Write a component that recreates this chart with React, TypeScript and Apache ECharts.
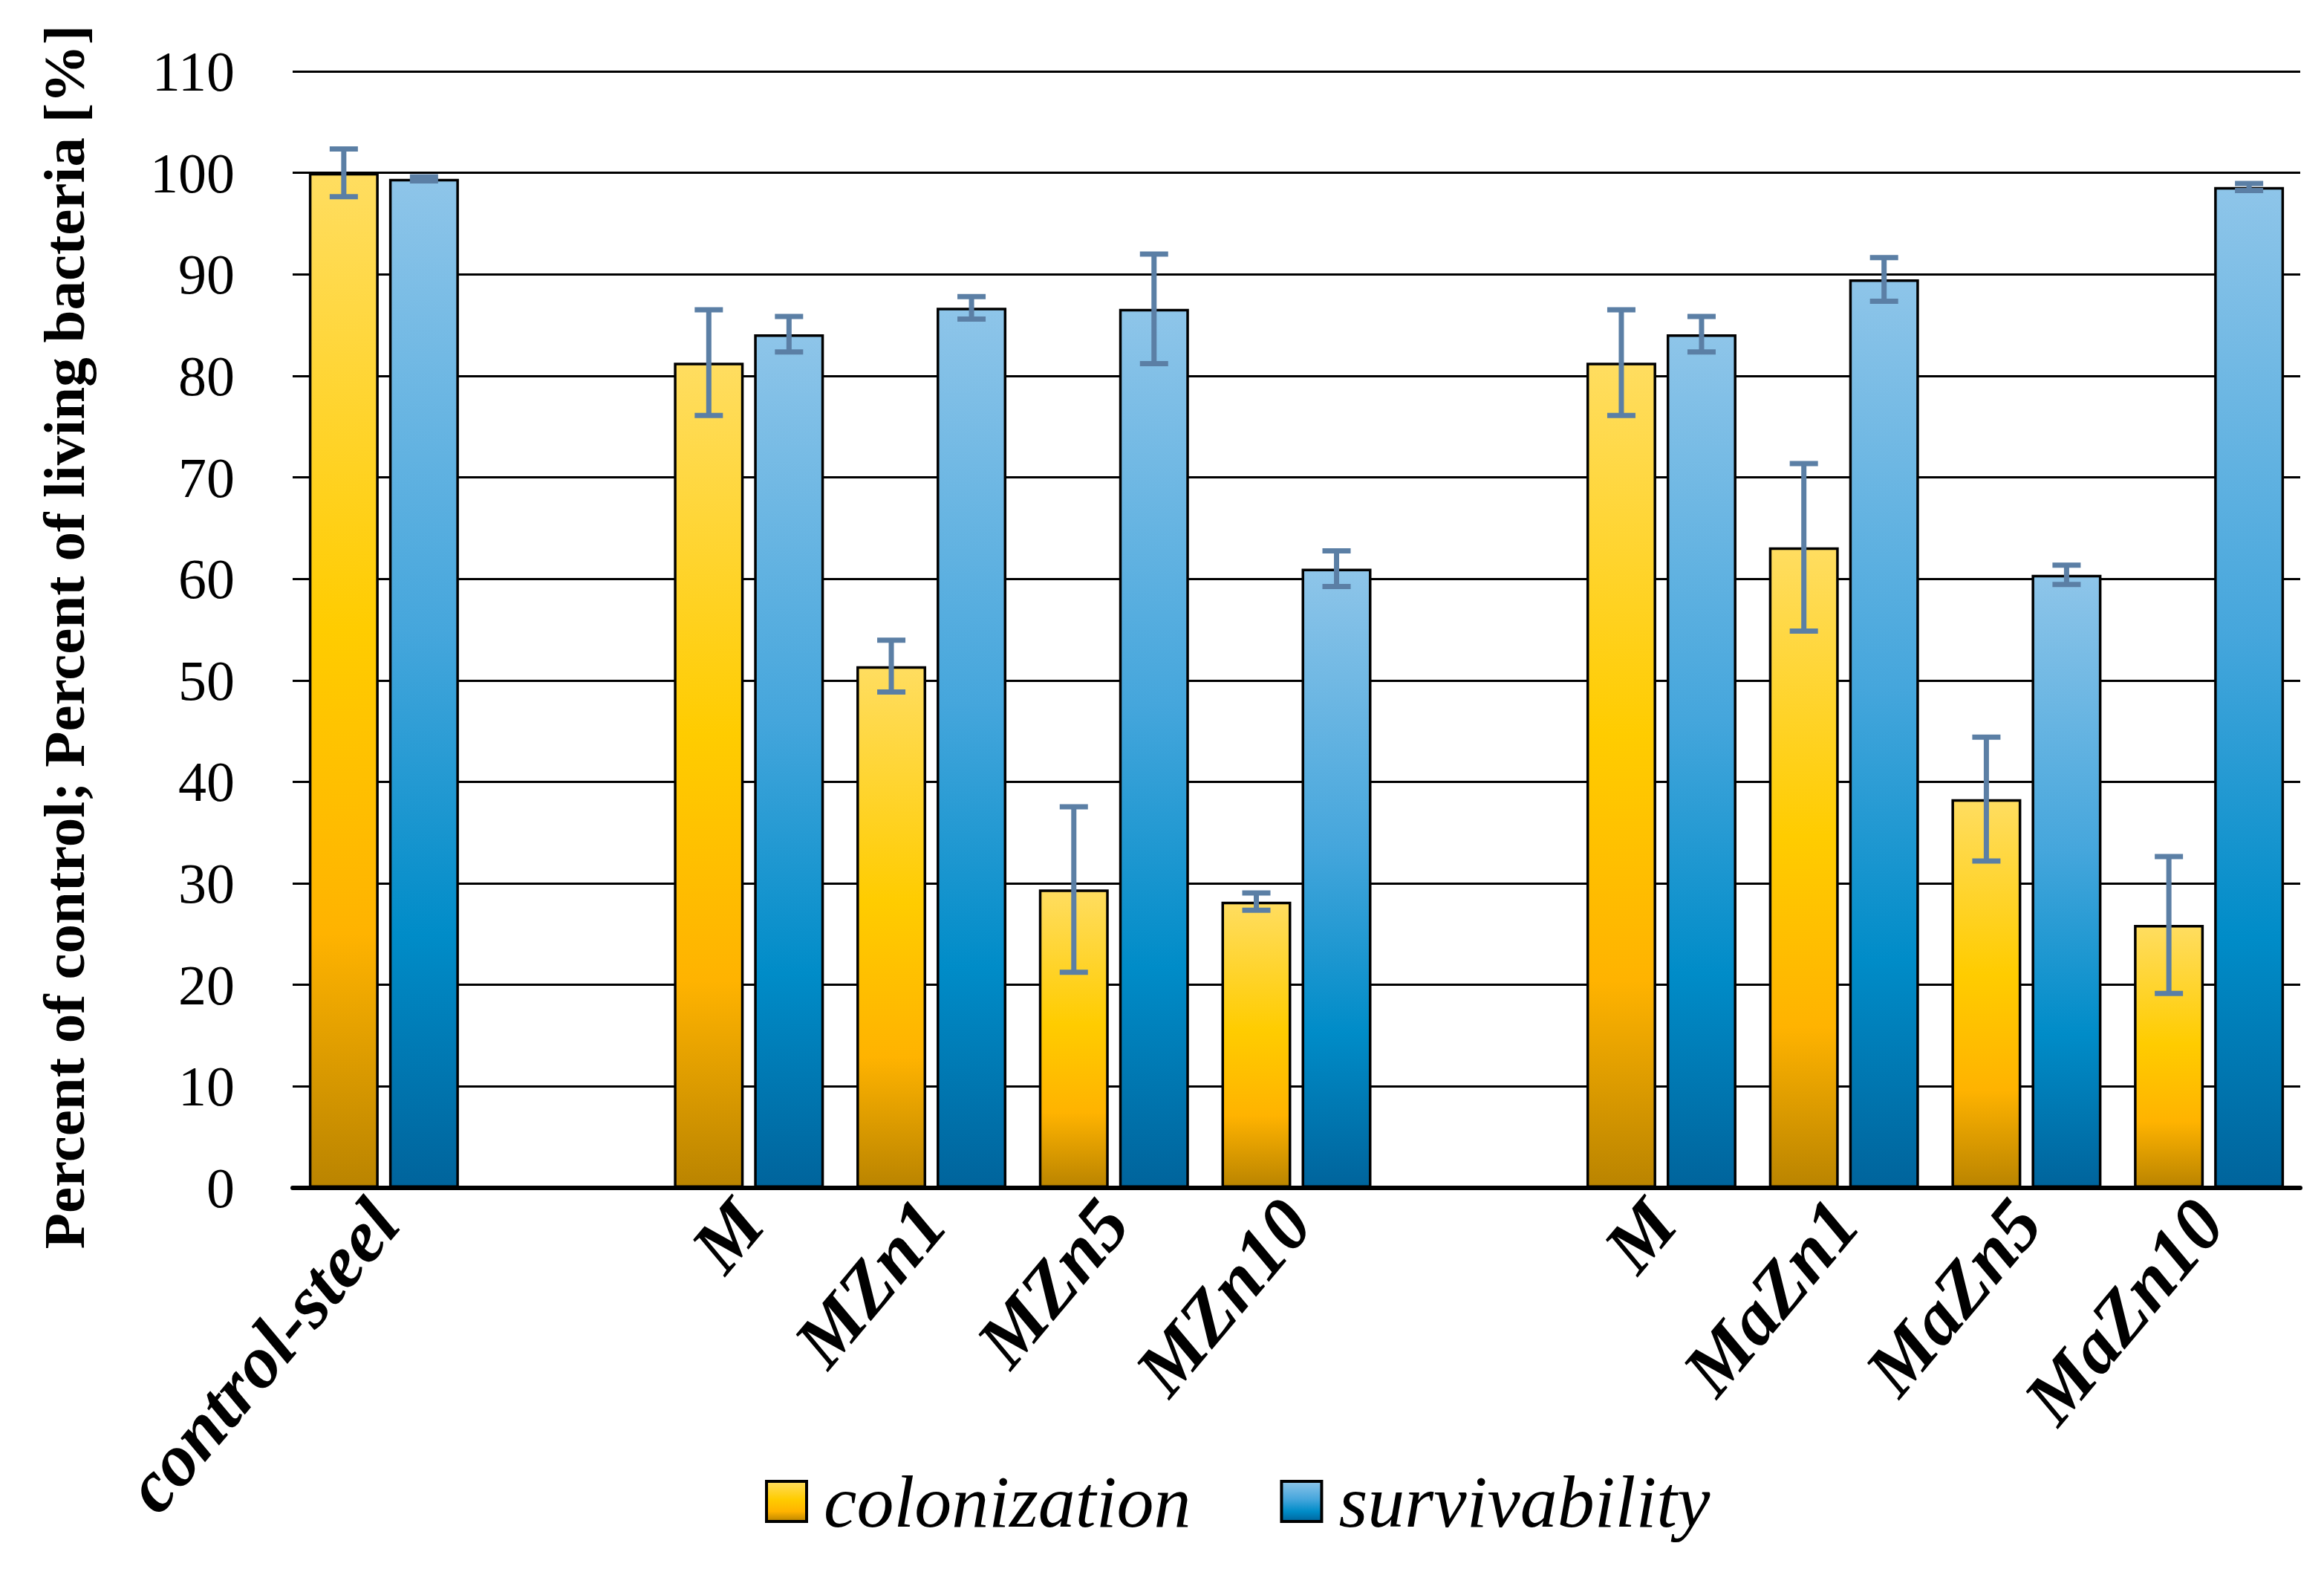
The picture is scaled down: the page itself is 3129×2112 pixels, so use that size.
import React, { useEffect, useRef } from "react";
import * as echarts from "echarts";

const categories = ["control-steel", "", "M", "MZn1", "MZn5", "MZn10", "", "M", "MaZn1", "MaZn5", "MaZn10"];
const colonization = [100, null, 81.3, 51.4, 29.4, 28.2, null, 81.3, 63.1, 38.3, 25.9];
const colonizationErr = [2.35, null, 5.2, 2.55, 8.15, 0.85, null, 5.2, 8.25, 6.1, 6.75];
const survivability = [99.4, null, 84.1, 86.7, 86.6, 61.0, null, 84.1, 89.5, 60.4, 98.6];
const survivabilityErr = [0.2, null, 1.75, 1.1, 5.4, 1.75, null, 1.75, 2.15, 0.95, 0.35];
const yTicks = { min: 0, max: 110, interval: 10 };
const seriesNames = ["colonization", "survivability"];

const FONT = "'Liberation Serif', 'Times New Roman', serif";
const ERR_COLOR = "#5B7FA5";
const BAR_W = 94;
const BAR_GAP = 14;

const yellowGrad = {
  type: "linear", x: 0, y: 0, x2: 0, y2: 1,
  colorStops: [
    { offset: 0, color: "#FFDD60" },
    { offset: 0.45, color: "#FFCC00" },
    { offset: 0.75, color: "#FFB300" },
    { offset: 1, color: "#BA8400" },
  ],
};
const blueGrad = {
  type: "linear", x: 0, y: 0, x2: 0, y2: 1,
  colorStops: [
    { offset: 0, color: "#8EC5E9" },
    { offset: 0.45, color: "#45A6DC" },
    { offset: 0.75, color: "#008CC8" },
    { offset: 1, color: "#00649C" },
  ],
};

function errData(vals: (number | null)[], errs: (number | null)[]) {
  const out: number[][] = [];
  vals.forEach((v, i) => {
    const e = errs[i];
    if (v != null && e != null) out.push([i, v - e, v + e]);
  });
  return out;
}

function errSeries(name: string, data: number[][], offset: number) {
  return {
    type: "custom",
    name,
    z: 10,
    data,
    encode: { x: 0, y: [1, 2] },
    renderItem: (_params: any, api: any) => {
      const x = api.value(0);
      const lo = api.coord([x, api.value(1)]);
      const hi = api.coord([x, api.value(2)]);
      const cx = lo[0] + offset;
      const style = { stroke: ERR_COLOR, lineWidth: 7 };
      return {
        type: "group",
        children: [
          { type: "line", shape: { x1: cx, y1: lo[1], x2: cx, y2: hi[1] }, style },
          { type: "line", shape: { x1: cx - 19, y1: hi[1], x2: cx + 19, y2: hi[1] }, style },
          { type: "line", shape: { x1: cx - 19, y1: lo[1], x2: cx + 19, y2: lo[1] }, style },
        ],
      };
    },
  };
}

export default function App() {
  const ref = useRef<HTMLDivElement>(null);
  useEffect(() => {
    document.body.style.margin = "0";
    if (!ref.current) return;
    const chart = echarts.init(ref.current, null, { renderer: "svg" });
    const off = (BAR_W + BAR_GAP) / 2;
    chart.setOption({
      animation: false,
      backgroundColor: "#ffffff",
      grid: { left: 394, right: 32, top: 96, bottom: 2112 - 1599, containLabel: false },
      legend: {
        data: seriesNames,
        left: 1025,
        top: 1966,
        icon: "rect",
        itemWidth: 54,
        itemHeight: 54,
        itemGap: 120,
        itemStyle: { borderColor: "#000", borderWidth: 4 },
        textStyle: { fontFamily: FONT, fontStyle: "italic", fontSize: 100, color: "#000", padding: [0, 0, 0, 18] },
      },
      xAxis: {
        type: "category",
        data: categories,
        axisLine: { lineStyle: { color: "#000", width: 6 } },
        axisTick: { show: false },
        axisLabel: {
          interval: 0,
          rotate: 50,
          margin: 30,
          fontFamily: FONT,
          fontStyle: "italic",
          fontWeight: "bold",
          fontSize: 100,
          color: "#000",
        },
      },
      yAxis: {
        type: "value",
        min: yTicks.min,
        max: yTicks.max,
        interval: yTicks.interval,
        name: "Percent of control; Percent of living bacteria [%]",
        nameLocation: "middle",
        nameGap: 268,
        nameTextStyle: { fontFamily: FONT, fontWeight: "bold", fontSize: 79, color: "#000", padding: [0, 20, 0, 0] },
        axisLine: { show: false },
        axisTick: { show: false },
        axisLabel: { margin: 78, fontFamily: FONT, fontSize: 76, color: "#000" },
        splitLine: { lineStyle: { color: "#000", width: 3 } },
      },
      series: [
        {
          type: "bar",
          name: seriesNames[0],
          data: colonization,
          barWidth: BAR_W,
          barGap: `${(BAR_GAP / BAR_W) * 100}%`,
          itemStyle: { color: yellowGrad, borderColor: "#000", borderWidth: 3.5 },
        },
        {
          type: "bar",
          name: seriesNames[1],
          data: survivability,
          barWidth: BAR_W,
          itemStyle: { color: blueGrad, borderColor: "#000", borderWidth: 3.5 },
        },
        errSeries("colonizationErr", errData(colonization, colonizationErr), -off),
        errSeries("survivabilityErr", errData(survivability, survivabilityErr), off),
      ],
    });
    return () => chart.dispose();
  }, []);
  return <div ref={ref} style={{ width: 3129, height: 2112 }} />;
}
